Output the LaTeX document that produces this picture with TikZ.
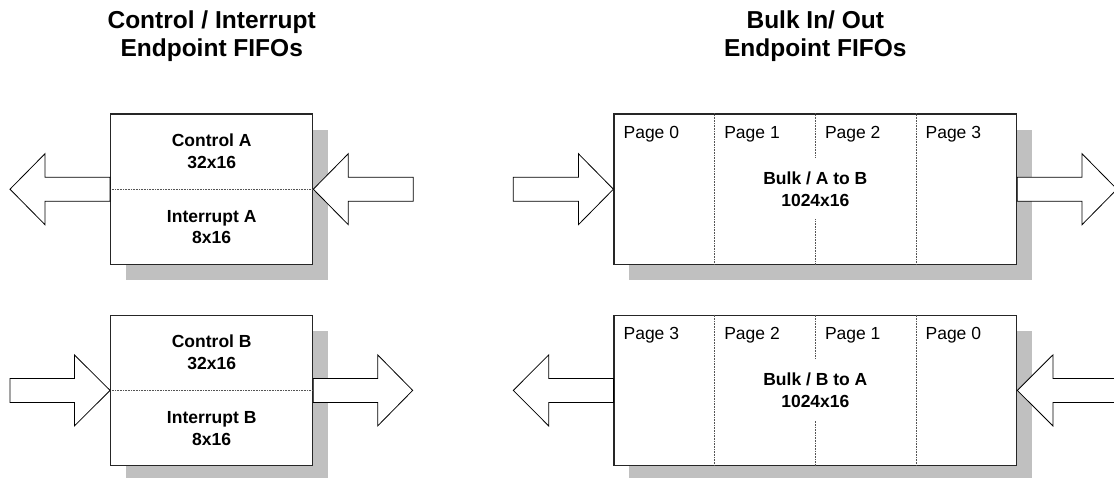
\documentclass[tikz,border=0pt]{standalone}
\usepackage{fontspec}
\setmainfont{Liberation Sans}
\usetikzlibrary{calc,shadows}

\definecolor{shadowgray}{HTML}{C0C0C0}
\definecolor{divgray}{HTML}{555555}

% horizontal block arrow: #1 tail, #2 tip, #3 signed head length
\newcommand{\fatarrow}[3]{%
  \draw[fatarrow] let \p1=(#1), \p2=(#2) in
    ({\x1},{\y2+12pt}) -- ({\x2-(#3pt)},{\y2+12pt}) -- ({\x2-(#3pt)},{\y2+35.5pt})
    -- (\x2,\y2) -- ({\x2-(#3pt)},{\y2-35.5pt}) -- ({\x2-(#3pt)},{\y2-12pt})
    -- ({\x1},{\y2-12pt}) -- cycle;}

\begin{document}
\begin{tikzpicture}[x=1pt,y=-1pt,
  fifo/.style={draw=black!85,line width=1.2pt,fill=white,rectangle,inner sep=0pt,
    drop shadow={shadow xshift=15pt,shadow yshift=-16pt,fill=shadowgray,opacity=1}},
  ctlfifo/.style={fifo,minimum width=202pt,minimum height=150.5pt},
  bulkfifo/.style={fifo,minimum width=402.7pt,minimum height=150.5pt},
  divider/.style={draw=divgray,line width=0.8pt,dash pattern=on 0.8pt off 0.8pt},
  fatarrow/.style={draw=black,line width=0.8pt,fill=white,line join=miter},
  title/.style={font=\fontsize{24.5}{27.5}\selectfont\bfseries,align=center},
  label/.style={font=\fontsize{17.5}{21.7}\selectfont\bfseries,align=center,inner sep=0pt},
  page/.style={font=\fontsize{17.5}{21}\selectfont,anchor=base west,inner sep=0pt}]
\useasboundingbox (0,0) rectangle (1114,477);

% headings
\node[title] (ttlctl) at (211.7,36) {Control / Interrupt\\Endpoint FIFOs};
\node[title] (ttlbulk) at (815.3,36) {Bulk In/ Out\\Endpoint FIFOs};

% FIFO blocks
\node[ctlfifo] (ctlA) at (211.7,189.2) {};
\node[ctlfifo] (ctlB) at (211.7,390.4) {};
\node[bulkfifo] (bulkA) at (815.35,189.2) {};
\node[bulkfifo] (bulkB) at (815.35,390.4) {};

% control / interrupt split lines and labels
\draw[divider] (ctlA.west) -- (ctlA.east);
\draw[divider] (ctlB.west) -- (ctlB.east);
\node[label] (ctlAu) at ($(ctlA.north)!0.5!(ctlA.center)$) {Control A\\32x16};
\node[label] (ctlAl) at ($(ctlA.south)!0.5!(ctlA.center)$) {Interrupt A\\8x16};
\node[label] (ctlBu) at ($(ctlB.north)!0.5!(ctlB.center)$) {Control B\\32x16};
\node[label] (ctlBl) at ($(ctlB.south)!0.5!(ctlB.center)$) {Interrupt B\\8x16};

% bulk page columns
\foreach \b in {bulkA,bulkB}{
  \foreach \f in {0.25,0.75}{
    \draw[divider] ($(\b.north west)!\f!(\b.north east)$) -- ($(\b.south west)!\f!(\b.south east)$);
  }
  \draw[divider] (\b.north) -- ($(\b.north)+(0,44)$);
  \draw[divider] (\b.south) -- ($(\b.south)+(0,-46)$);
}
\node[label] (bulkAt) at (bulkA.center) {Bulk / A to B\\1024x16};
\node[label] (bulkBt) at (bulkB.center) {Bulk / B to A\\1024x16};

\foreach \b/\pa/\pb/\pc/\pd in {bulkA/0/1/2/3,bulkB/3/2/1/0}{
  \node[page] at ($(\b.north west)+(10,24.8)$) {Page \pa};
  \node[page] at ($(\b.north west)+(110.7,24.8)$) {Page \pb};
  \node[page] at ($(\b.north west)+(211.4,24.8)$) {Page \pc};
  \node[page] at ($(\b.north west)+(312,24.8)$) {Page \pd};
}

% free ends of the data-path arrows
\coordinate (ctlAout) at (10,189.2);
\coordinate (ctlAin) at (413.3,189.2);
\coordinate (ctlBin) at (10,390.4);
\coordinate (ctlBout) at (412.7,390.4);
\coordinate (bulkAin) at (513.3,189.2);
\coordinate (bulkAout) at (1117,189.2);
\coordinate (bulkBout) at (513.3,390.4);
\coordinate (bulkBin) at (1130,390.4);

% data-path arrows
\fatarrow{ctlA.west}{ctlAout}{-35}
\fatarrow{ctlAin}{ctlA.east}{-35}
\fatarrow{ctlBin}{ctlB.west}{35.7}
\fatarrow{ctlB.east}{ctlBout}{35}
\fatarrow{bulkAin}{bulkA.west}{35}
\fatarrow{bulkA.east}{bulkAout}{35}
\fatarrow{bulkB.west}{bulkBout}{-35.4}
\fatarrow{bulkBin}{bulkB.east}{-35.6}
\end{tikzpicture}
\end{document}
